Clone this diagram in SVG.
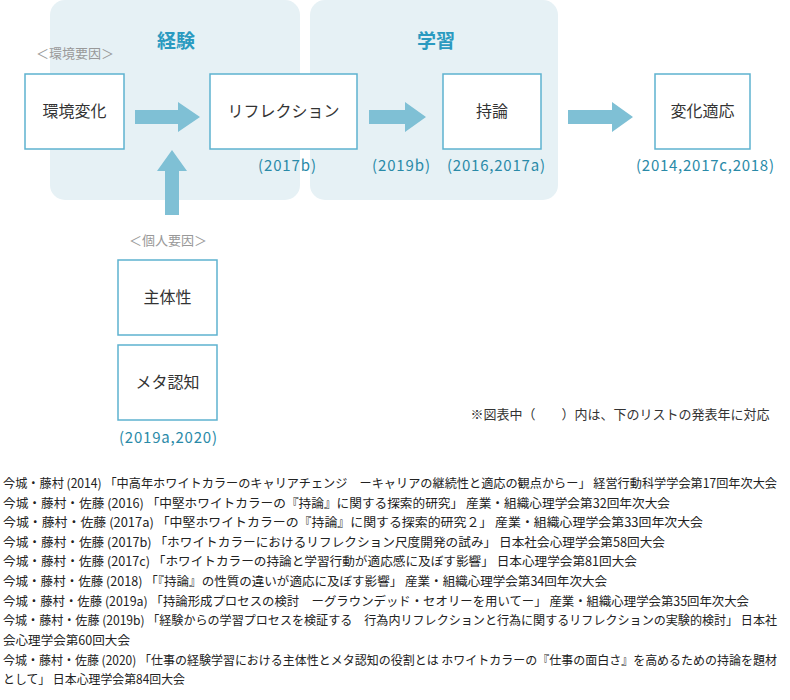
<svg xmlns="http://www.w3.org/2000/svg" width="790" height="700" viewBox="0 0 790 700">
<style>
text{font-family:"Noto Sans CJK JP","Noto Sans",sans-serif}
.bg{fill:#e6f1f5}
.box{fill:#fff;stroke:#5eb2cf;stroke-width:1.5}
.lbl{font-size:16px;fill:#333;text-anchor:middle}
.yr{font-size:15px;fill:#2a8aa8;text-anchor:middle}
.hd{font-size:19px;font-weight:bold;fill:#2a9ac0;text-anchor:middle}
.gr{font-size:13px;fill:#999;text-anchor:middle}
.ar{fill:#7fc0d5}
.ref{font-size:12.5px;fill:#222}
</style>
<rect class="bg" x="50" y="0" width="250" height="200" rx="15"/>
<rect class="bg" x="310" y="0" width="248" height="200" rx="15"/>
<text class="hd" x="176" y="48">経験</text>
<text class="hd" x="436" y="48">学習</text>
<text class="gr" x="75" y="58">＜環境要因＞</text>
<text class="gr" x="168" y="245">＜個人要因＞</text>
<g id="n1"><rect class="box" x="25" y="74" width="99" height="75"/><text class="lbl" x="74.5" y="117">環境変化</text></g>
<g id="n2"><rect class="box" x="210" y="74" width="147" height="75"/><text class="lbl" x="283.5" y="117">リフレクション</text></g>
<g id="n3"><rect class="box" x="443" y="74" width="98" height="75"/><text class="lbl" x="492" y="117">持論</text></g>
<g id="n4"><rect class="box" x="655" y="74" width="95" height="75"/><text class="lbl" x="702.5" y="117">変化適応</text></g>
<g id="n5"><rect class="box" x="118" y="260" width="99" height="75"/><text class="lbl" x="167.5" y="303">主体性</text></g>
<g id="n6"><rect class="box" x="118" y="345" width="99" height="75"/><text class="lbl" x="167.5" y="388">メタ認知</text></g>
<g id="connectors">
<polygon class="ar" points="135,110 178,110 178,102 200,117 178,132 178,124 135,124"/>
<polygon class="ar" points="369,110 405,110 405,102 426,117 405,132 405,124 369,124"/>
<polygon class="ar" points="568,110 612,110 612,102 633,117 612,132 612,124 568,124"/>
<polygon class="ar" points="165,215 165,171 157,171 172,150 187,171 179,171 179,215"/>
</g>
<text class="yr" x="287" y="171" textLength="58">(2017b)</text>
<text class="yr" x="401" y="171" textLength="58">(2019b)</text>
<text class="yr" x="496" y="171" textLength="98">(2016,2017a)</text>
<text class="yr" x="705" y="171" textLength="138">(2014,2017c,2018)</text>
<text class="yr" x="168" y="443" textLength="98">(2019a,2020)</text>
<text x="620" y="419" style="font-size:13px;fill:#333;text-anchor:middle">※図表中（　　）内は、下のリストの発表年に対応</text>
<g class="ref">
<text x="3" y="488" textLength="774" lengthAdjust="spacingAndGlyphs">今城・藤村 (2014) 「中高年ホワイトカラーのキャリアチェンジ　ーキャリアの継続性と適応の観点からー」 経営行動科学学会第17回年次大会</text>
<text x="3" y="508" textLength="667" lengthAdjust="spacingAndGlyphs">今城・藤村・佐藤 (2016) 「中堅ホワイトカラーの『持論』に関する探索的研究」 産業・組織心理学会第32回年次大会</text>
<text x="3" y="527" textLength="700" lengthAdjust="spacingAndGlyphs">今城・藤村・佐藤 (2017a) 「中堅ホワイトカラーの『持論』に関する探索的研究２」 産業・組織心理学会第33回年次大会</text>
<text x="3" y="547" textLength="662" lengthAdjust="spacingAndGlyphs">今城・藤村・佐藤 (2017b) 「ホワイトカラーにおけるリフレクション尺度開発の試み」 日本社会心理学会第58回大会</text>
<text x="3" y="566" textLength="634" lengthAdjust="spacingAndGlyphs">今城・藤村・佐藤 (2017c) 「ホワイトカラーの持論と学習行動が適応感に及ぼす影響」 日本心理学会第81回大会</text>
<text x="3" y="586" textLength="604" lengthAdjust="spacingAndGlyphs">今城・藤村・佐藤 (2018) 「『持論』の性質の違いが適応に及ぼす影響」 産業・組織心理学会第34回年次大会</text>
<text x="3" y="606" textLength="746" lengthAdjust="spacingAndGlyphs">今城・藤村・佐藤 (2019a) 「持論形成プロセスの検討　ーグラウンデッド・セオリーを用いてー」 産業・組織心理学会第35回年次大会</text>
<text x="3" y="625" textLength="774" lengthAdjust="spacingAndGlyphs">今城・藤村・佐藤 (2019b) 「経験からの学習プロセスを検証する　行為内リフレクションと行為に関するリフレクションの実験的検討」 日本社</text>
<text x="3" y="645" textLength="127" lengthAdjust="spacingAndGlyphs">会心理学会第60回大会</text>
<text x="3" y="665" textLength="774" lengthAdjust="spacingAndGlyphs">今城・藤村・佐藤 (2020) 「仕事の経験学習における主体性とメタ認知の役割とは ホワイトカラーの『仕事の面白さ』を高めるための持論を題材</text>
<text x="3" y="684" textLength="182" lengthAdjust="spacingAndGlyphs">として」 日本心理学会第84回大会</text>
</g>
</svg>
